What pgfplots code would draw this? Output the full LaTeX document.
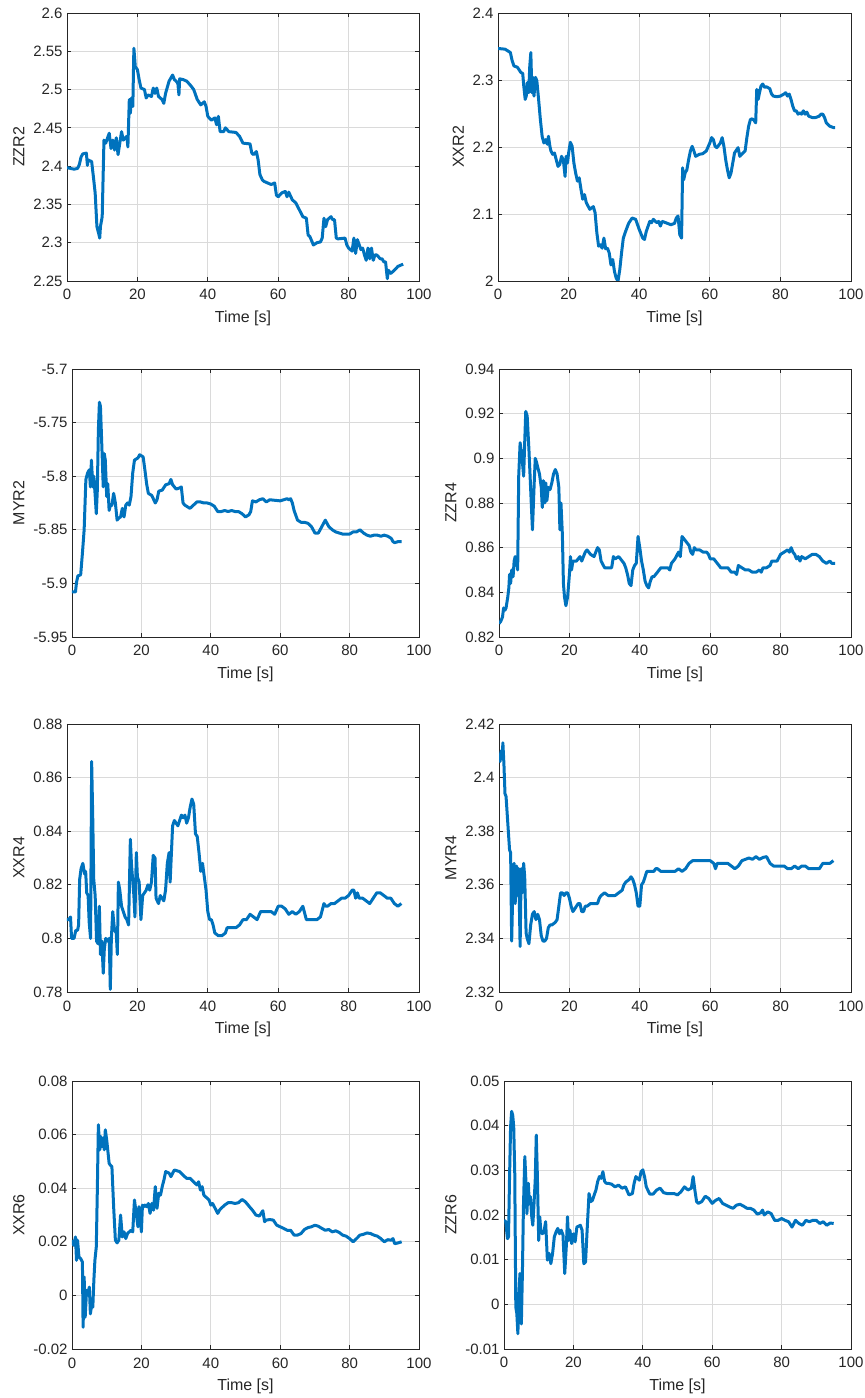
\documentclass[border=0pt]{standalone}
\usepackage{pgfplots}
\pgfplotsset{compat=1.18}
\usepackage{fontspec}
\setmainfont{Liberation Sans}

\definecolor{axgray}{HTML}{262626}
\definecolor{gridgray}{HTML}{DADADA}
\definecolor{mblue}{HTML}{0072BD}

\pgfplotsset{
  mplot/.style={
    scale only axis,
    anchor=north west,
    height=268pt,
    xmin=0, xmax=100,
    xtick={0,20,40,60,80,100},
    xticklabels={0,20,40,60,80,100},
    scaled y ticks=false,
    scaled x ticks=false,
    grid=major,
    grid style={color=gridgray, line width=0.7pt},
    axis line style={color=axgray, line width=0.8pt},
    tick style={color=axgray, line width=0.8pt},
    tick align=inside,
    major tick length=4pt,
    /pgf/number format/assume math mode=true,
    ticklabel style={font=\fontsize{15}{17}\selectfont, text=axgray},
    label style={font=\fontsize{16}{18}\selectfont, text=axgray},
    xticklabel shift=5pt,
    yticklabel shift=1pt,
    xlabel shift=4pt,
    ylabel shift=2pt,
    xlabel={Time [s]},
  },
  trace/.style={color=mblue, line width=3pt, line join=round, mark=none},
}

\begin{document}
\begin{tikzpicture}
\useasboundingbox (0pt,0pt) rectangle (865pt,1398pt);

% ---------------- row 1 ----------------
\begin{axis}[mplot, at={(67pt,1385pt)}, width=352pt,
  ymin=2.25, ymax=2.6,
  ytick={2.25,2.3,2.35,2.4,2.45,2.5,2.55,2.6},
  yticklabels={2.25,2.3,2.35,2.4,2.45,2.5,2.55,2.6},
  ylabel={ZZR2}]
\addplot[trace] coordinates {(0,2.398)(1,2.397)(2,2.396)(3,2.397)(3.5,2.402)(4,2.412)(4.5,2.416)(5.5,2.417)(5.8,2.401)(6,2.408)(7,2.406)(7.5,2.386)(8,2.365)(8.5,2.321)(9,2.312)(9.3,2.306)(9.5,2.321)(10,2.334)(10.5,2.434)(11,2.430)(12,2.443)(12.5,2.423)(13,2.434)(13.5,2.421)(14,2.437)(14.5,2.415)(15,2.430)(15.5,2.445)(16,2.434)(17,2.439)(17.3,2.425)(17.7,2.487)(18,2.469)(18.3,2.489)(18.7,2.478)(19,2.554)(19.4,2.530)(20,2.526)(20.5,2.513)(21,2.502)(22,2.500)(22.5,2.489)(23,2.493)(24,2.491)(24.5,2.502)(25,2.495)(25.5,2.502)(26,2.491)(27,2.487)(27.5,2.482)(28,2.495)(29,2.511)(30,2.519)(30.5,2.513)(31,2.511)(31.5,2.508)(31.8,2.493)(32,2.514)(33,2.513)(34,2.511)(35,2.506)(36,2.500)(37,2.487)(38,2.480)(39,2.484)(39.5,2.478)(40,2.465)(41,2.460)(42,2.463)(42.5,2.454)(43,2.465)(43.5,2.445)(44.5,2.445)(45,2.450)(46,2.445)(48,2.444)(49,2.439)(50,2.430)(52,2.429)(52.5,2.417)(53,2.415)(53.8,2.419)(54.3,2.408)(54.8,2.389)(55.5,2.382)(56,2.380)(57,2.378)(58,2.376)(59,2.378)(59.5,2.362)(60,2.360)(61,2.365)(62,2.367)(62.5,2.360)(63,2.366)(64,2.356)(65,2.352)(66,2.343)(67,2.334)(68,2.332)(68.5,2.310)(69,2.308)(70,2.297)(71,2.300)(72,2.301)(72.5,2.306)(73,2.332)(73.5,2.321)(74,2.330)(75,2.334)(75.5,2.330)(76,2.330)(76.5,2.306)(77,2.305)(79,2.306)(79.5,2.297)(80,2.293)(81,2.289)(81.5,2.306)(82,2.286)(82.5,2.304)(83.5,2.291)(84,2.293)(84.5,2.284)(85,2.277)(85.5,2.293)(86,2.279)(86.5,2.293)(87,2.277)(87.5,2.284)(88,2.284)(89,2.279)(89.5,2.279)(90,2.275)(90.5,2.275)(91,2.253)(91.3,2.264)(92,2.260)(93,2.264)(94,2.269)(95,2.271)(95.5,2.272)};
\end{axis}

\begin{axis}[mplot, at={(498pt,1385pt)}, width=353pt,
  ymin=2, ymax=2.4,
  ytick={2,2.1,2.2,2.3,2.4},
  yticklabels={2,2.1,2.2,2.3,2.4},
  ylabel={XXR2}]
\addplot[trace] coordinates {(0,2.347)(2,2.346)(3.5,2.341)(4,2.329)(4.5,2.321)(5.5,2.319)(6,2.315)(6.5,2.311)(7,2.310)(7.3,2.291)(7.7,2.271)(8,2.276)(8.3,2.296)(8.7,2.281)(9,2.321)(9.3,2.341)(9.6,2.281)(9.9,2.304)(10.2,2.276)(10.6,2.304)(11,2.299)(11.5,2.271)(12,2.241)(12.5,2.216)(13,2.206)(13.5,2.211)(14,2.204)(14.3,2.216)(14.7,2.201)(15,2.194)(15.5,2.189)(16,2.191)(16.5,2.181)(17,2.171)(17.5,2.174)(18,2.186)(18.5,2.181)(19,2.156)(19.3,2.186)(19.7,2.176)(20,2.191)(20.5,2.207)(21,2.201)(21.5,2.176)(22,2.161)(22.5,2.149)(23,2.154)(23.5,2.137)(24,2.122)(24.5,2.129)(25,2.117)(25.5,2.112)(26,2.107)(27,2.111)(27.5,2.102)(28,2.072)(28.5,2.052)(29,2.054)(29.5,2.049)(30,2.064)(30.5,2.048)(31,2.049)(31.5,2.042)(32,2.024)(32.5,2.032)(33,2.014)(33.5,2.004)(34,2.000)(34.5,2.017)(35,2.042)(35.5,2.064)(36,2.072)(37,2.086)(38,2.094)(39,2.092)(40,2.077)(41,2.064)(41.5,2.062)(42,2.074)(43,2.089)(43.5,2.087)(44,2.092)(45,2.087)(45.5,2.089)(46,2.082)(46.5,2.089)(47,2.088)(48,2.086)(49,2.084)(50,2.086)(50.5,2.094)(51,2.097)(51.5,2.069)(52,2.064)(52.3,2.169)(52.6,2.151)(53,2.161)(53.5,2.166)(54,2.181)(54.5,2.194)(55,2.201)(55.5,2.194)(56,2.186)(57,2.189)(58,2.190)(59,2.194)(60,2.206)(60.5,2.214)(61,2.211)(61.5,2.201)(62,2.199)(63,2.206)(63.5,2.214)(64,2.201)(64.5,2.181)(65,2.166)(65.5,2.154)(66,2.161)(66.5,2.176)(67,2.191)(68,2.199)(68.5,2.186)(69,2.189)(70,2.194)(70.5,2.214)(71,2.231)(71.5,2.241)(72,2.242)(72.5,2.240)(73,2.236)(73.3,2.286)(73.7,2.271)(74,2.279)(74.5,2.291)(75,2.294)(75.5,2.289)(76,2.290)(77,2.287)(77.5,2.279)(78,2.276)(79,2.275)(80,2.276)(81,2.279)(81.5,2.281)(82,2.276)(82.5,2.279)(83,2.271)(83.5,2.261)(84,2.254)(84.5,2.254)(85,2.249)(85.5,2.251)(86,2.249)(86.5,2.254)(87,2.249)(87.5,2.252)(88,2.246)(89,2.244)(90,2.244)(91,2.246)(91.5,2.249)(92,2.249)(92.5,2.244)(93,2.236)(94,2.231)(95,2.229)(95.5,2.229)};
\end{axis}

% ---------------- row 2 ----------------
\begin{axis}[mplot, at={(72pt,1029pt)}, width=347pt,
  ymin=-5.95, ymax=-5.7,
  ytick={-5.95,-5.9,-5.85,-5.8,-5.75,-5.7},
  yticklabels={-5.95,-5.9,-5.85,-5.8,-5.75,-5.7},
  ylabel={MYR2}]
\addplot[trace] coordinates {(0,-5.908)(1,-5.908)(1.3,-5.899)(1.7,-5.893)(2.5,-5.892)(3,-5.872)(3.5,-5.850)(4,-5.803)(4.5,-5.797)(5,-5.794)(5.3,-5.810)(5.6,-5.785)(6,-5.810)(6.3,-5.800)(6.7,-5.819)(7,-5.835)(7.3,-5.813)(7.6,-5.757)(7.9,-5.731)(8.2,-5.735)(8.6,-5.772)(9,-5.810)(9.3,-5.779)(9.6,-5.785)(10,-5.819)(10.3,-5.807)(10.7,-5.832)(11,-5.828)(11.5,-5.827)(12,-5.816)(12.5,-5.825)(13,-5.841)(13.5,-5.839)(14,-5.838)(14.5,-5.830)(15,-5.838)(15.5,-5.827)(16,-5.825)(16.5,-5.827)(17,-5.819)(17.5,-5.797)(18,-5.785)(19,-5.783)(19.5,-5.780)(20.5,-5.782)(21,-5.794)(21.5,-5.807)(22,-5.816)(23,-5.818)(24,-5.825)(24.5,-5.822)(25,-5.814)(26,-5.813)(27,-5.808)(28,-5.807)(28.5,-5.803)(29,-5.808)(30,-5.812)(31,-5.811)(31.5,-5.810)(32,-5.825)(32.5,-5.827)(33,-5.828)(34,-5.830)(35,-5.827)(36,-5.824)(37,-5.824)(38,-5.825)(39,-5.825)(40,-5.826)(41,-5.828)(42,-5.833)(43,-5.833)(44,-5.832)(45,-5.833)(46,-5.832)(47,-5.833)(48,-5.833)(49,-5.835)(50,-5.838)(51,-5.836)(51.5,-5.833)(52,-5.823)(53,-5.824)(54,-5.822)(55,-5.821)(56,-5.824)(57,-5.822)(60,-5.823)(61,-5.822)(62,-5.821)(62.5,-5.822)(63,-5.821)(63.5,-5.825)(64,-5.832)(65,-5.841)(66,-5.843)(67,-5.843)(68,-5.844)(69,-5.847)(70,-5.853)(71,-5.853)(72,-5.847)(73,-5.841)(74,-5.847)(75,-5.850)(76,-5.852)(77,-5.853)(78,-5.854)(80,-5.854)(81,-5.852)(82,-5.852)(83,-5.850)(84,-5.853)(85,-5.855)(86,-5.856)(87,-5.855)(88,-5.855)(89,-5.856)(90,-5.855)(91,-5.856)(92,-5.858)(92.5,-5.861)(93,-5.862)(94,-5.861)(95,-5.861)};
\end{axis}

\begin{axis}[mplot, at={(499pt,1029pt)}, width=352pt,
  ymin=0.82, ymax=0.94,
  ytick={0.82,0.84,0.86,0.88,0.9,0.92,0.94},
  yticklabels={0.82,0.84,0.86,0.88,0.9,0.92,0.94},
  ylabel={ZZR4}]
\addplot[trace] coordinates {(0,0.826)(0.5,0.827)(1,0.829)(1.3,0.833)(1.7,0.832)(2,0.833)(2.5,0.838)(2.8,0.842)(3,0.848)(3.3,0.844)(3.6,0.850)(4,0.847)(4.3,0.854)(4.6,0.856)(5,0.854)(5.3,0.850)(5.6,0.892)(6,0.907)(6.5,0.901)(7,0.892)(7.3,0.907)(7.6,0.921)(8,0.919)(8.5,0.904)(9,0.886)(9.5,0.868)(10,0.889)(10.3,0.900)(10.7,0.898)(11,0.896)(11.5,0.893)(12,0.887)(12.3,0.878)(12.6,0.890)(13,0.880)(13.3,0.889)(13.6,0.881)(14,0.887)(14.5,0.886)(15,0.889)(15.5,0.893)(16,0.895)(16.5,0.893)(17,0.887)(17.3,0.868)(17.6,0.880)(18,0.866)(18.3,0.844)(18.6,0.838)(19,0.834)(19.5,0.838)(20,0.848)(20.3,0.856)(20.6,0.850)(21,0.854)(22,0.854)(23,0.856)(23.5,0.854)(24,0.856)(24.5,0.858)(25,0.859)(26,0.857)(27,0.856)(28,0.860)(28.5,0.859)(29,0.854)(30,0.851)(31,0.851)(32,0.851)(32.5,0.856)(33,0.855)(34,0.856)(35,0.854)(35.5,0.853)(36,0.851)(36.5,0.848)(37,0.844)(37.5,0.843)(38,0.850)(38.5,0.852)(39,0.853)(39.5,0.865)(40,0.860)(40.5,0.854)(41,0.850)(41.5,0.845)(42,0.843)(42.5,0.842)(43,0.845)(43.5,0.847)(44,0.847)(45,0.849)(46,0.851)(47,0.851)(48,0.851)(48.5,0.850)(49,0.853)(50,0.855)(51,0.858)(51.5,0.856)(52,0.865)(53,0.863)(54,0.861)(54.5,0.858)(55,0.857)(55.5,0.860)(56,0.859)(57,0.859)(58,0.858)(59,0.858)(59.5,0.857)(60,0.855)(61,0.855)(62,0.853)(63,0.851)(64,0.851)(65,0.851)(66,0.849)(67,0.849)(67.5,0.848)(68,0.852)(69,0.851)(70,0.850)(71,0.850)(72,0.849)(73,0.849)(74,0.850)(74.5,0.849)(75,0.851)(76,0.851)(77,0.852)(77.5,0.854)(78,0.854)(79,0.854)(80,0.857)(81,0.858)(82,0.859)(82.5,0.858)(83,0.860)(83.5,0.858)(84,0.857)(84.5,0.855)(85,0.856)(85.5,0.854)(86,0.856)(87,0.855)(88,0.856)(89,0.857)(90,0.857)(91,0.856)(92,0.854)(93,0.853)(94,0.854)(94.5,0.853)(95,0.853)(95.5,0.853)};
\end{axis}

% ---------------- row 3 ----------------
\begin{axis}[mplot, at={(67pt,674pt)}, width=352pt,
  ymin=0.78, ymax=0.88,
  ytick={0.78,0.8,0.82,0.84,0.86,0.88},
  yticklabels={0.78,0.8,0.82,0.84,0.86,0.88},
  ylabel={XXR4}]
\addplot[trace] coordinates {(0,0.807)(0.5,0.807)(1,0.808)(1.3,0.800)(1.6,0.800)(2,0.800)(2.5,0.803)(3,0.803)(3.3,0.805)(3.6,0.822)(4,0.826)(4.5,0.828)(5,0.824)(5.3,0.825)(5.6,0.817)(6,0.816)(6.3,0.806)(6.7,0.800)(7,0.866)(7.3,0.846)(7.6,0.822)(8,0.816)(8.4,0.799)(8.8,0.798)(9.2,0.812)(9.5,0.794)(9.9,0.799)(10.3,0.787)(10.6,0.796)(11,0.800)(11.5,0.799)(12,0.800)(12.3,0.781)(12.6,0.800)(13,0.810)(13.5,0.803)(14,0.802)(14.3,0.794)(14.6,0.821)(15,0.818)(15.5,0.812)(16,0.810)(16.5,0.808)(17,0.807)(17.5,0.805)(18,0.837)(18.3,0.828)(18.7,0.821)(19,0.816)(19.3,0.808)(19.7,0.832)(20,0.823)(20.5,0.821)(21,0.807)(21.5,0.816)(22,0.817)(22.5,0.818)(23,0.820)(23.5,0.818)(24,0.821)(24.5,0.831)(25,0.830)(25.3,0.815)(26,0.813)(26.5,0.816)(27,0.815)(27.5,0.814)(28,0.818)(28.5,0.828)(29,0.832)(29.3,0.821)(29.7,0.833)(30,0.842)(30.5,0.844)(31,0.843)(31.5,0.842)(32,0.844)(32.5,0.846)(33,0.845)(33.5,0.846)(34,0.843)(34.5,0.845)(35,0.849)(35.5,0.852)(36,0.850)(36.5,0.839)(37,0.838)(37.5,0.832)(38,0.825)(38.5,0.828)(39,0.823)(39.5,0.818)(40,0.810)(40.5,0.807)(41,0.807)(41.5,0.805)(42,0.802)(43,0.801)(44,0.801)(45,0.802)(45.5,0.804)(46,0.804)(47,0.804)(48,0.804)(49,0.805)(50,0.807)(51,0.807)(52,0.809)(53,0.808)(54,0.807)(55,0.810)(56,0.810)(57,0.810)(58,0.810)(59,0.809)(60,0.812)(61,0.812)(62,0.811)(63,0.809)(64,0.810)(65,0.809)(66,0.810)(67,0.812)(68,0.807)(69,0.807)(70,0.807)(71,0.807)(72,0.808)(73,0.813)(73.5,0.812)(74,0.812)(75,0.813)(76,0.813)(77,0.814)(78,0.815)(79,0.815)(80,0.816)(81,0.818)(81.5,0.818)(82,0.815)(82.5,0.817)(83,0.815)(84,0.815)(85,0.814)(86,0.813)(87,0.815)(88,0.817)(89,0.817)(90,0.816)(91,0.815)(92,0.815)(93,0.813)(94,0.812)(95,0.813)};
\end{axis}

\begin{axis}[mplot, at={(499pt,674pt)}, width=352pt,
  ymin=2.32, ymax=2.42,
  ytick={2.32,2.34,2.36,2.38,2.4,2.42},
  yticklabels={2.32,2.34,2.36,2.38,2.4,2.42},
  ylabel={MYR4}]
\addplot[trace] coordinates {(0,2.409)(0.3,2.406)(0.6,2.410)(0.9,2.407)(1.1,2.413)(1.4,2.405)(1.7,2.394)(2,2.393)(2.5,2.383)(3,2.373)(3.3,2.372)(3.6,2.339)(4,2.363)(4.3,2.368)(4.6,2.353)(5,2.367)(5.3,2.356)(5.6,2.366)(6,2.337)(6.3,2.366)(6.6,2.357)(7,2.368)(7.3,2.363)(7.7,2.342)(8,2.340)(8.5,2.338)(9,2.345)(9.5,2.349)(10,2.350)(10.5,2.347)(11,2.349)(11.5,2.347)(12,2.341)(12.5,2.339)(13,2.339)(13.5,2.340)(14,2.344)(14.5,2.345)(15,2.345)(16,2.346)(16.5,2.347)(17,2.352)(17.5,2.357)(18,2.357)(18.5,2.356)(19,2.357)(19.5,2.357)(20,2.355)(20.5,2.352)(21,2.350)(22,2.352)(22.5,2.353)(23,2.353)(23.5,2.350)(24,2.350)(24.5,2.352)(25,2.352)(26,2.353)(27,2.353)(28,2.353)(28.5,2.355)(29,2.356)(30,2.357)(31,2.356)(32,2.356)(33,2.356)(34,2.357)(35,2.358)(35.5,2.360)(36,2.361)(37,2.362)(37.5,2.363)(38,2.362)(38.5,2.360)(39,2.357)(39.5,2.352)(40,2.352)(40.5,2.360)(41,2.361)(41.5,2.363)(42,2.365)(43,2.365)(44,2.365)(44.5,2.366)(45,2.366)(46,2.365)(47,2.365)(48,2.365)(49,2.365)(50,2.365)(51,2.366)(52,2.365)(53,2.366)(54,2.368)(55,2.369)(56,2.369)(57,2.369)(58,2.369)(59,2.369)(60,2.369)(61,2.368)(61.5,2.366)(62,2.368)(63,2.368)(64,2.368)(65,2.368)(66,2.367)(67,2.366)(68,2.367)(69,2.369)(70,2.3695)(71,2.370)(72,2.3695)(73,2.3705)(74,2.3695)(75,2.3702)(76,2.3705)(77,2.368)(78,2.367)(79,2.367)(80,2.367)(81,2.367)(82,2.366)(83,2.366)(84,2.367)(85,2.366)(86,2.367)(87,2.367)(88,2.366)(89,2.366)(90,2.366)(91,2.366)(92,2.368)(93,2.368)(94,2.368)(95,2.369)};
\end{axis}

% ---------------- row 4 ----------------
\begin{axis}[mplot, at={(72pt,317pt)}, width=347pt,
  ymin=-0.02, ymax=0.08,
  ytick={-0.02,0,0.02,0.04,0.06,0.08},
  yticklabels={-0.02,0,0.02,0.04,0.06,0.08},
  ylabel={XXR6}]
\addplot[trace] coordinates {(0,0.0206)(0.5,0.0187)(1,0.0218)(1.3,0.0131)(1.6,0.0206)(2,0.0144)(2.5,0.0137)(3,0.0125)(3.2,-0.0119)(3.5,0.0069)(3.8,-0.0081)(4.2,0.0019)(4.5,0.0006)(5,0.0031)(5.3,-0.0069)(5.7,-0.0031)(6,-0.0044)(6.3,0.0056)(6.6,0.0131)(7,0.0181)(7.3,0.0393)(7.6,0.0637)(8,0.0543)(8.3,0.0593)(8.6,0.0555)(9,0.0587)(9.3,0.0543)(9.6,0.0618)(10,0.0580)(10.3,0.0543)(10.7,0.0493)(11,0.0487)(11.5,0.0480)(12,0.0331)(12.5,0.0206)(13,0.0196)(13.5,0.0206)(14,0.0300)(14.5,0.0218)(15,0.0237)(15.5,0.0212)(16,0.0231)(17,0.0243)(17.5,0.0237)(18,0.0356)(18.5,0.0306)(19,0.0256)(19.3,0.0331)(19.7,0.0281)(20,0.0237)(20.3,0.0337)(20.7,0.0331)(21,0.0337)(21.5,0.0331)(22,0.0343)(22.5,0.0306)(23,0.0343)(23.5,0.0318)(24,0.0406)(24.5,0.0325)(25,0.0381)(25.5,0.0374)(26,0.0406)(26.5,0.0431)(27,0.0462)(28,0.0456)(28.5,0.0443)(29,0.0456)(29.5,0.0468)(30,0.0466)(31,0.0462)(32,0.0449)(33,0.0437)(34,0.0437)(35,0.0424)(36,0.0412)(36.5,0.0424)(37,0.0393)(37.5,0.0406)(38,0.0374)(39,0.0362)(39.5,0.0356)(40,0.0337)(40.5,0.0343)(41,0.0331)(42,0.0306)(42.5,0.0318)(43,0.0325)(44,0.0337)(45,0.0346)(46,0.0346)(47,0.0343)(48,0.0346)(49,0.0358)(50,0.0349)(51,0.0333)(52,0.0318)(53,0.0300)(54,0.0296)(55,0.0316)(55.5,0.0275)(56,0.0281)(57,0.0283)(58,0.0281)(59,0.0262)(60,0.0256)(61,0.0250)(62,0.0243)(63,0.0243)(64,0.0225)(65,0.0225)(66,0.0231)(67,0.0246)(68,0.0253)(69,0.0256)(70,0.0262)(71,0.0258)(72,0.0250)(73,0.0243)(74,0.0246)(75,0.0237)(76,0.0241)(77,0.0235)(78,0.0225)(79,0.0221)(80,0.0212)(81,0.0200)(82,0.0212)(83,0.0225)(84,0.0228)(85,0.0233)(86,0.0231)(87,0.0225)(88,0.0221)(89,0.0212)(90,0.0200)(91,0.0208)(92,0.0206)(92.5,0.0212)(93,0.0193)(94,0.0196)(95,0.0200)};
\end{axis}

\begin{axis}[mplot, at={(504pt,317pt)}, width=347pt,
  ymin=-0.01, ymax=0.05,
  ytick={-0.01,0,0.01,0.02,0.03,0.04,0.05},
  yticklabels={-0.01,0,0.01,0.02,0.03,0.04,0.05},
  ylabel={ZZR6}]
\addplot[trace] coordinates {(0,0.0188)(0.5,0.0185)(1,0.0147)(1.3,0.0151)(1.6,0.0286)(1.9,0.0398)(2.2,0.0432)(2.5,0.0424)(2.8,0.0398)(3.1,0.0293)(3.4,-0.0006)(3.7,-0.0021)(4,-0.0066)(4.3,0.0024)(4.6,0.0069)(5,-0.0044)(5.3,0.0069)(5.6,0.0218)(6,0.0331)(6.3,0.0278)(6.6,0.0203)(7,0.0271)(7.3,0.0226)(7.6,0.0241)(8,0.0196)(8.3,0.0177)(8.6,0.0218)(9,0.0278)(9.3,0.0379)(9.6,0.0293)(10,0.0143)(10.3,0.0196)(10.6,0.0166)(11,0.0158)(11.5,0.0162)(12,0.0185)(12.5,0.0099)(13,0.0114)(13.5,0.0091)(14,0.0114)(14.5,0.0151)(15,0.0162)(15.5,0.0170)(16,0.0158)(16.5,0.0166)(17,0.0155)(17.5,0.0069)(18,0.0136)(18.3,0.0196)(18.6,0.0143)(19,0.0166)(19.5,0.0136)(20,0.0158)(20.5,0.0140)(21,0.0173)(22,0.0177)(22.5,0.0166)(23,0.0091)(23.5,0.0095)(24,0.0173)(24.5,0.0248)(25,0.0230)(25.5,0.0233)(26,0.0245)(26.5,0.0256)(27,0.0275)(27.5,0.0286)(28,0.0282)(28.5,0.0297)(29,0.0275)(29.5,0.0271)(30,0.0271)(31,0.0269)(32,0.0263)(33,0.0267)(34,0.0260)(35,0.0263)(36,0.0245)(37,0.0248)(37.5,0.0271)(38,0.0286)(39,0.0278)(39.5,0.0297)(40,0.0301)(40.5,0.0286)(41,0.0263)(42,0.0247)(43,0.0247)(44,0.0256)(45,0.0260)(46,0.0250)(47,0.0248)(48,0.0248)(49,0.0248)(50,0.0245)(51,0.0252)(52,0.0263)(53,0.0256)(54,0.0260)(54.5,0.0286)(55,0.0256)(55.5,0.0230)(56,0.0226)(57,0.0230)(58,0.0242)(59,0.0237)(60,0.0226)(61,0.0233)(62,0.0237)(63,0.0226)(64,0.0222)(65,0.0218)(66,0.0215)(67,0.0222)(68,0.0224)(69,0.0220)(70,0.0215)(71,0.0215)(72,0.0211)(73,0.0202)(74,0.0205)(74.5,0.0211)(75,0.0200)(76,0.0207)(77,0.0203)(78,0.0188)(79,0.0188)(80,0.0192)(81,0.0188)(82,0.0185)(83,0.0173)(84,0.0188)(85,0.0181)(86,0.0177)(87,0.0188)(88,0.0185)(89,0.0188)(90,0.0188)(91,0.0181)(92,0.0185)(93,0.0177)(94,0.0182)(95,0.0181)};
\end{axis}
\end{tikzpicture}
\end{document}
